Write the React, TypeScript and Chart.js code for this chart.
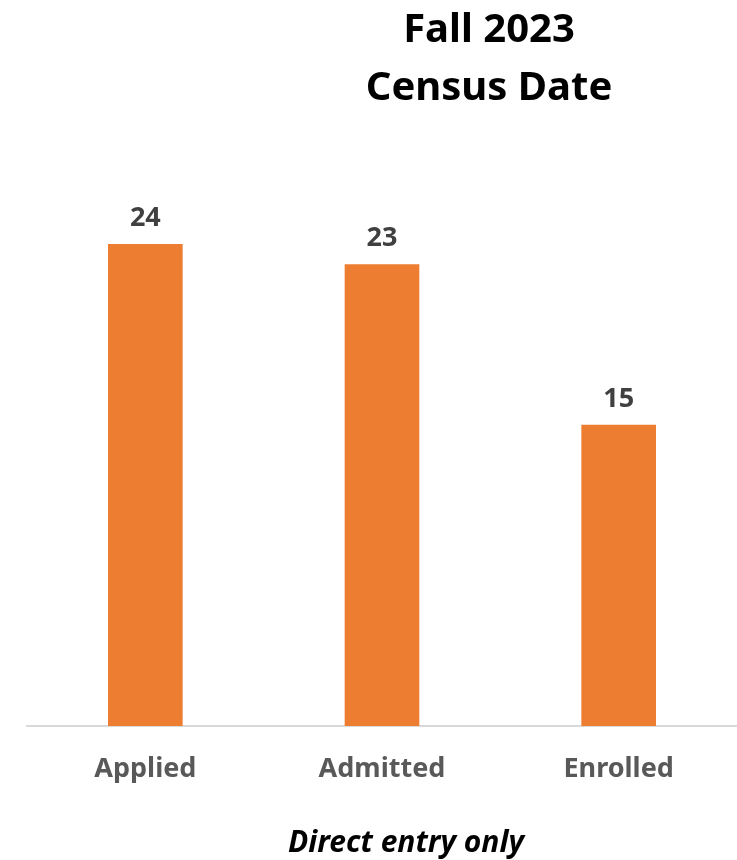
import React, { useEffect, useRef } from "react";
import { Chart, registerables } from "chart.js";

Chart.register(...registerables);

const categories = ["Applied", "Admitted", "Enrolled"];
const values = [24, 23, 15];
const titleLines = ["Fall 2023", "Census Date"];
const subtitle = "Direct entry only";

const FONT = "'Noto Sans', 'Open Sans', sans-serif";

const textPlugin = {
  id: "texts",
  afterDatasetsDraw(chart: any) {
    const ctx = chart.ctx;
    ctx.save();
    // value labels
    const meta = chart.getDatasetMeta(0);
    ctx.fillStyle = "#404040";
    ctx.font = `bold 27px ${FONT}`;
    ctx.textAlign = "center";
    ctx.textBaseline = "alphabetic";
    meta.data.forEach((bar: any, i: number) => {
      ctx.fillText(String(values[i]), bar.x, bar.y - 18);
    });
    // title
    ctx.fillStyle = "#000000";
    ctx.font = `bold 40px ${FONT}`;
    ctx.fillText(titleLines[0], 489, 42);
    ctx.fillText(titleLines[1], 489, 100);
    // subtitle
    ctx.font = `italic bold 30px ${FONT}`;
    ctx.fillText(subtitle, 406, 852);
    ctx.restore();
  },
};

export default function App() {
  const ref = useRef<HTMLCanvasElement | null>(null);
  useEffect(() => {
    document.body.style.margin = "0";
    const chart = new Chart(ref.current!, {
      type: "bar",
      data: {
        labels: categories,
        datasets: [
          {
            data: values,
            backgroundColor: "#ED7D31",
            barThickness: 74,
          },
        ],
      },
      options: {
        animation: false,
        responsive: false,
        maintainAspectRatio: false,
        layout: { padding: { left: 27, right: 0, top: 124, bottom: 0 } },
        plugins: {
          legend: { display: false },
          tooltip: { enabled: false },
          title: { display: false },
        },
        scales: {
          y: { display: false, min: 0, max: 30 },
          x: {
            grid: { display: false, drawTicks: false },
            border: { display: true, color: "#d9d9d9", width: 2 },
            ticks: {
              color: "#595959",
              font: { family: FONT, size: 27, weight: "bold" },
              padding: 27,
            },
            afterFit(scale: any) {
              scale.height = 134;
            },
          },
        },
      },
      plugins: [textPlugin],
    });
    return () => chart.destroy();
  }, []);
  return (
    <div style={{ width: 737, height: 860 }}>
      <canvas ref={ref} width={737} height={860} style={{ display: "block" }} />
    </div>
  );
}
